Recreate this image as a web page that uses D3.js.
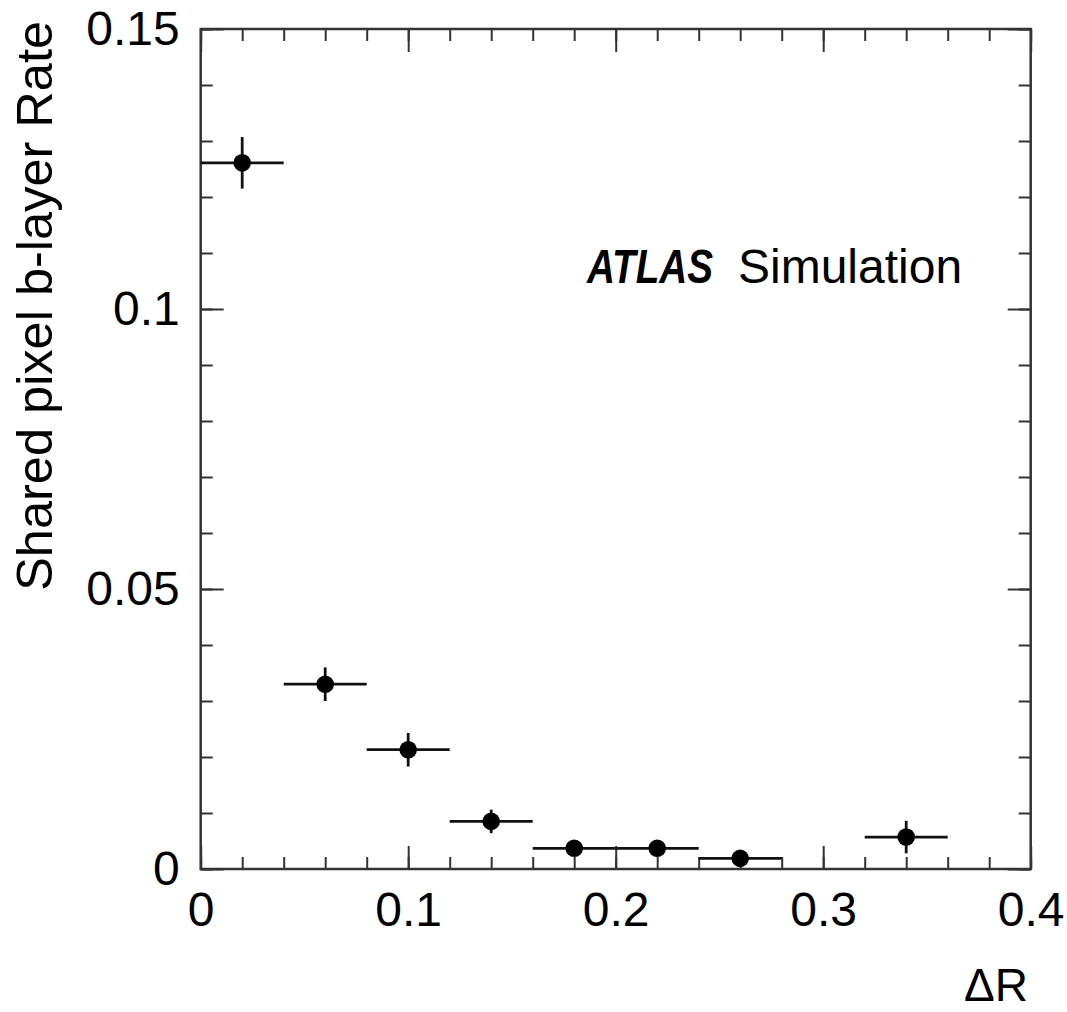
<!DOCTYPE html>
<html>
<head>
<meta charset="utf-8">
<script src="https://cdn.jsdelivr.net/npm/d3@7"></script>
<style>
  body { margin: 0; background: #fff; }
  svg { display: block; font-family: "Liberation Sans", Arial, Helvetica, sans-serif; }
</style>
</head>
<body>
<script>
// shared pixel b-layer rate vs dR, one point per 0.04 bin
var binCenter = [0.02, 0.06, 0.10, 0.14, 0.18, 0.22, 0.26, 0.34];
var binHalf = 0.02;
var rate = [0.1261, 0.0330, 0.0213, 0.0085, 0.0037, 0.0037, 0.0019, 0.0057];
var rateErr = [0.0046, 0.0030, 0.0030, 0.0021, 0.0012, 0.0012, 0.0008, 0.0029];

var xMajor = [0, 0.1, 0.2, 0.3, 0.4];
var xMajorLabels = ["0", "0.1", "0.2", "0.3", "0.4"];
var yMajor = [0, 0.05, 0.1, 0.15];
var yMajorLabels = ["0", "0.05", "0.1", "0.15"];
var xMinor = d3.range(0, 21).map(i => i * 0.02);
var yMinor = d3.range(0, 16).map(i => i * 0.01);

var width = 1067, height = 1012;
// note: "top" is taken by window.top, so use plot* names
var plotL = 200.7, plotR = 1030.7, plotT = 29, plotB = 869;
var frameColor = "#333";
var minorLen = 12, majorLen = 23;

var x = d3.scaleLinear().domain([0, 0.4]).range([plotL, plotR]);
var y = d3.scaleLinear().domain([0, 0.15]).range([plotB, plotT]);

var svg = d3.select("body").append("svg")
    .attr("width", width)
    .attr("height", height);

function styleAxis(g) {
    g.select(".domain").remove();
    g.selectAll(".tick line").attr("stroke", frameColor).attr("stroke-width", 2);
    g.selectAll(".tick text").attr("fill", "#000").style("font-size", "48px")
        .style("font-family", "'Liberation Sans', Arial, sans-serif");
}

// minor ticks on all four sides
svg.append("g").attr("transform", "translate(0," + plotB + ")")
    .call(d3.axisBottom(x).tickValues(xMinor).tickSizeInner(-minorLen).tickSizeOuter(0).tickFormat(""))
    .call(styleAxis);
svg.append("g").attr("transform", "translate(0," + plotT + ")")
    .call(d3.axisTop(x).tickValues(xMinor).tickSizeInner(-minorLen).tickSizeOuter(0).tickFormat(""))
    .call(styleAxis);
svg.append("g").attr("transform", "translate(" + plotL + ",0)")
    .call(d3.axisLeft(y).tickValues(yMinor).tickSizeInner(-minorLen).tickSizeOuter(0).tickFormat(""))
    .call(styleAxis);
svg.append("g").attr("transform", "translate(" + plotR + ",0)")
    .call(d3.axisRight(y).tickValues(yMinor).tickSizeInner(-minorLen).tickSizeOuter(0).tickFormat(""))
    .call(styleAxis);

// major ticks + labels
svg.append("g").attr("transform", "translate(0," + plotB + ")")
    .call(d3.axisBottom(x).tickValues(xMajor).tickSizeInner(-majorLen).tickSizeOuter(0).tickPadding(23)
        .tickFormat((d, i) => xMajorLabels[i]))
    .call(styleAxis);
svg.append("g").attr("transform", "translate(0," + plotT + ")")
    .call(d3.axisTop(x).tickValues(xMajor).tickSizeInner(-majorLen).tickSizeOuter(0).tickFormat(""))
    .call(styleAxis);
svg.append("g").attr("transform", "translate(" + plotL + ",0)")
    .call(d3.axisLeft(y).tickValues(yMajor).tickSizeInner(-majorLen).tickSizeOuter(0).tickPadding(21)
        .tickFormat((d, i) => yMajorLabels[i]))
    .call(styleAxis);
svg.append("g").attr("transform", "translate(" + plotR + ",0)")
    .call(d3.axisRight(y).tickValues(yMajor).tickSizeInner(-majorLen).tickSizeOuter(0).tickFormat(""))
    .call(styleAxis);

// frame
svg.append("rect")
    .attr("x", plotL).attr("y", plotT)
    .attr("width", plotR - plotL).attr("height", plotB - plotT)
    .attr("fill", "none")
    .attr("stroke", frameColor)
    .attr("stroke-width", 2.5);

// points with error bars
var pts = binCenter.map((c, i) => ({x: c, y: rate[i], e: rateErr[i]}));
var pg = svg.append("g").attr("class", "points");

pg.selectAll("line.h").data(pts).enter().append("line")
    .attr("class", "h")
    .attr("x1", d => x(d.x - binHalf)).attr("x2", d => x(d.x + binHalf))
    .attr("y1", d => y(d.y)).attr("y2", d => y(d.y))
    .attr("stroke", "#111").attr("stroke-width", 2.8);

pg.selectAll("line.v").data(pts).enter().append("line")
    .attr("class", "v")
    .attr("x1", d => x(d.x)).attr("x2", d => x(d.x))
    .attr("y1", d => y(d.y - d.e)).attr("y2", d => y(d.y + d.e))
    .attr("stroke", "#111").attr("stroke-width", 2.8);

pg.selectAll("circle").data(pts).enter().append("circle")
    .attr("cx", d => x(d.x)).attr("cy", d => y(d.y))
    .attr("r", 8.8)
    .attr("fill", "#000");

// axis titles
svg.append("text")
    .attr("x", 1028).attr("y", 1001)
    .attr("text-anchor", "end")
    .style("font-size", "46px")
    .text("\u0394R");

svg.append("text")
    .attr("transform", "translate(52,21) rotate(-90)")
    .attr("text-anchor", "end")
    .style("font-size", "50.5px")
    .text("Shared pixel b-layer Rate");

// ATLAS label
svg.append("text")
    .attr("x", 587).attr("y", 283)
    .attr("textLength", 126)
    .attr("lengthAdjust", "spacingAndGlyphs")
    .style("font-size", "48px")
    .style("font-weight", "bold")
    .style("font-style", "italic")
    .style("font-family", "'Liberation Sans', Arial, sans-serif")
    .text("ATLAS");

svg.append("text")
    .attr("x", 738).attr("y", 283)
    .style("font-size", "48px")
    .text("Simulation");
</script>
</body>
</html>
